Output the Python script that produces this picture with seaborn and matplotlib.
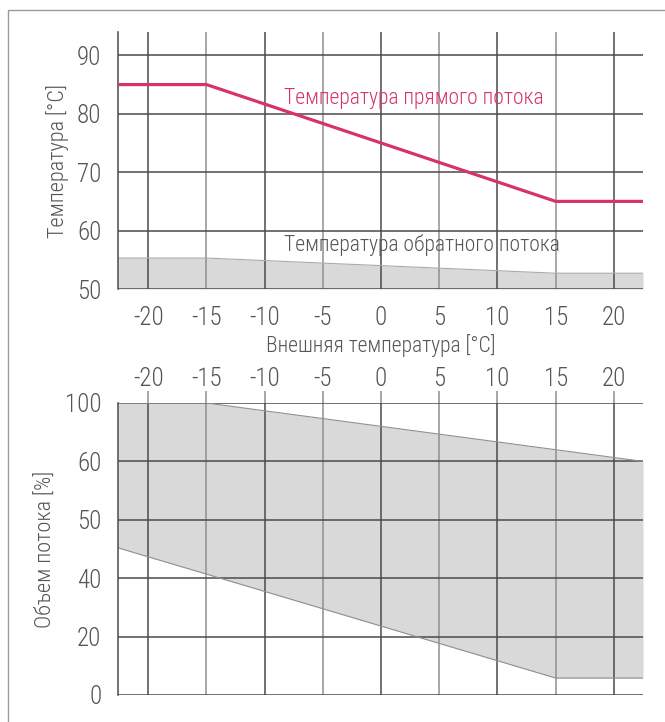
import numpy as np
import matplotlib
matplotlib.use('Agg')
import matplotlib.pyplot as plt
import seaborn as sns

# supply temperature curve
supply_x = [-22.6, -15, 15, 22.5]
supply_t = [85, 85, 65, 65]

# return temperature band (upper edge, filled down to 50)
return_x = [-22.6, -15, 15, 22.5]
return_t = [55.3, 55.3, 52.7, 52.7]

# flow volume band
flow_x = [-22.6, -15, 15, 22.5]
flow_hi = [100, 100, 68, 60]
flow_lo = [45.2, 40.7, 5.8, 5.8]

x_ticks = [-20, -15, -10, -5, 0, 5, 10, 15, 20]
temp_ticks = [50, 60, 70, 80, 90]
flow_ticks = [0, 20, 40, 50, 60, 100]

sns.set_theme(style='white')
plt.rcParams['font.family'] = ['Roboto Condensed', 'Archivo Narrow', 'DejaVu Sans']
plt.rcParams['font.weight'] = 'light'
plt.rcParams['axes.labelweight'] = 'light'

txt = '#555555'
dark = '#4a4a4a'
light = '#8f8f8f'
pink = '#d6336c'
fill = '#d9d9d9'

fig = plt.figure(figsize=(6.65, 7.22), dpi=100)
fig.patches.append(plt.Rectangle((8 / 665, -0.1), 1.2, 1 - 10 / 722 + 0.1,
                                 transform=fig.transFigure, fill=False,
                                 edgecolor='#9a9a9a', lw=1.0))

ax1 = fig.add_axes([118 / 665, 1 - 289 / 722, 525 / 665, 257 / 722])
ax2 = fig.add_axes([118 / 665, 1 - 695 / 722, 525 / 665, 292 / 722])


def style_grid(ax, yt):
    for i, xv in enumerate(x_ticks):
        ax.axvline(xv, color=dark if i % 2 == 0 else light, lw=1.1, zorder=1)
    for yv in yt:
        ax.axhline(yv, color=dark, lw=1.1, zorder=1)
    for s in ['top', 'right', 'bottom']:
        ax.spines[s].set_visible(False)
    ax.spines['left'].set_color(dark)
    ax.spines['left'].set_linewidth(1.1)
    ax.set_xticks(x_ticks)
    ax.set_xticklabels([str(v) for v in x_ticks])
    ax.set_yticks(yt)
    ax.tick_params(axis='both', length=9, width=1.1, colors=dark,
                   labelcolor=txt, labelsize=18)
    ax.tick_params(axis='y', pad=3)
    ax.tick_params(axis='x', colors=light, labelcolor=txt, pad=3)
    ax.set_xlim(-22.6, 22.5)


# top chart: temperatures
ax1.fill_between(return_x, 50, return_t, color=fill, lw=0, zorder=0)
ax1.plot(return_x, return_t, color='#aaaaaa', lw=0.8, zorder=2)
sns.lineplot(x=supply_x, y=supply_t, ax=ax1, color=pink, lw=2.3, zorder=3)
style_grid(ax1, temp_ticks)
ax1.set_ylim(50, 94)
ax1.set_xlabel('Внешняя температура [°C]', fontsize=15.5, color=txt, labelpad=3)
ax1.set_ylabel('Температура [°C]', fontsize=16, color=txt, labelpad=6)
ax1.text(-8.3, 82.6, 'Температура прямого потока', color=pink, fontsize=15.6,
         va='center', ha='left', zorder=4)
ax1.text(-8.3, 57.5, 'Температура обратного потока', color=txt, fontsize=15.6,
         va='center', ha='left', zorder=4)

# bottom chart: flow volume, non-linear evenly spaced scale
pos = np.arange(len(flow_ticks), dtype=float)
fwd = lambda v: np.interp(v, flow_ticks, pos)
inv = lambda p: np.interp(p, pos, flow_ticks)
ax2.set_yscale('function', functions=(fwd, inv))
ax2.fill_between(flow_x, flow_lo, flow_hi, color=fill, lw=0, zorder=0)
ax2.plot(flow_x, flow_hi, color='#909090', lw=0.8, zorder=2)
ax2.plot(flow_x, flow_lo, color='#909090', lw=0.8, zorder=2)
style_grid(ax2, flow_ticks)
ax2.set_ylim(0, 100)
ax2.set_yticklabels([str(v) for v in flow_ticks])
ax2.xaxis.tick_top()
ax2.tick_params(axis='x', pad=0)
ax2.set_ylabel('Объем потока [%]', fontsize=16, color=txt, labelpad=6)

fig.savefig('out.png', dpi=100)
